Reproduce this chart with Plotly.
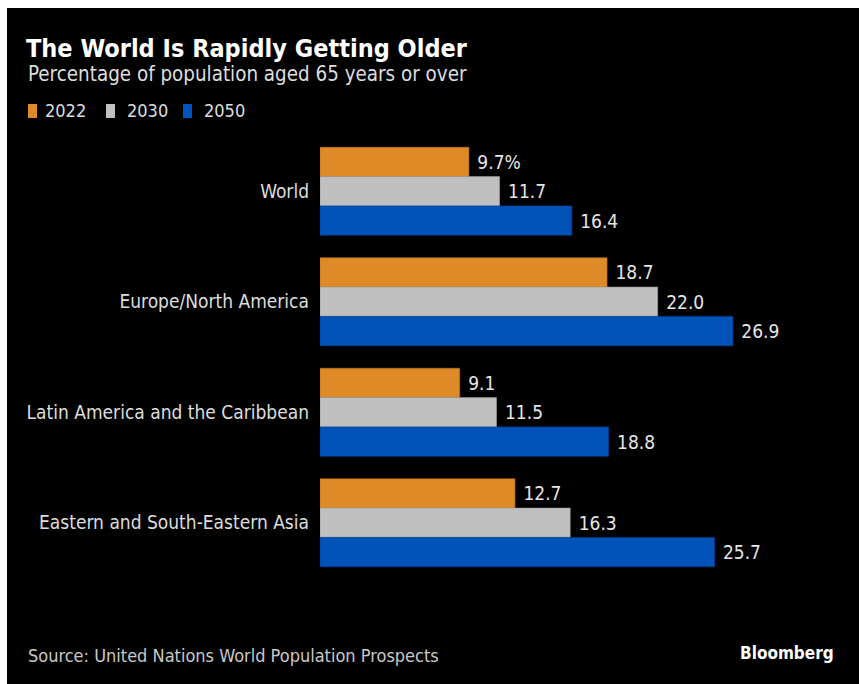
import plotly.graph_objects as go

# Regions and share of population aged 65+ (%)
regions = ["World", "Europe/North America", "Latin America and the Caribbean",
           "Eastern and South-Eastern Asia"]
years = ["2022", "2030", "2050"]
share_2022 = [9.7, 18.7, 9.1, 12.7]
share_2030 = [11.7, 22.0, 11.5, 16.3]
share_2050 = [16.4, 26.9, 18.8, 25.7]

series = [share_2022, share_2030, share_2050]
colors = ["#DE8A27", "#C0C0C0", "#0152B9"]
edge = ["#B9721F", "#9A9A9A", "#01439A"]

W, H = 859, 684
ML, MR, MT, MB = 320, 17, 136, 106
PW, PH = W - ML - MR, H - MT - MB
FONT = "DejaVu Sans Condensed, Liberation Sans Narrow, DejaVu Sans"
TXT = "#DDDDDD"


def px_x(px):
    return (px - ML) / PW


def px_y(py):
    return (H - MB - py) / PH


fig = go.Figure()
for i, (yr, vals) in enumerate(zip(years, series)):
    labels = []
    for j, v in enumerate(vals):
        s = f"{v:.1f}"
        if i == 0 and j == 0:
            s += "%"
        labels.append("\u00a0" + s)
    fig.add_trace(go.Bar(
        name=yr, y=regions, x=vals, orientation="h",
        marker=dict(color=colors[i], line=dict(color=edge[i], width=0.6)),
        text=labels, textposition="outside", cliponaxis=False,
        textfont=dict(family=FONT, size=19, color="#E6E6E6"),
        showlegend=False,
    ))

fig.update_layout(
    width=W, height=H,
    margin=dict(l=ML, r=MR, t=MT, b=MB, pad=0),
    paper_bgcolor="white", plot_bgcolor="black",
    barmode="group", bargap=0.204, bargroupgap=0,
    font=dict(family=FONT, color=TXT),
    title=dict(
        text="<b>The World Is Rapidly Getting Older</b>",
        xref="container", yref="container",
        x=26 / W, xanchor="left", y=1 - 48 / H, yanchor="middle",
        font=dict(family=FONT, size=25, color="white"),
    ),
    xaxis=dict(range=[0, PW / 15.35], visible=False, fixedrange=True),
    yaxis=dict(
        autorange="reversed", showgrid=False, zeroline=False, showline=False,
        ticks="", ticklabelstandoff=10,
        tickfont=dict(family=FONT, size=19, color=TXT),
    ),
)

# black card behind everything
fig.add_shape(
    type="rect", xref="paper", yref="paper", layer="below",
    x0=px_x(7), x1=px_x(W + 2), y0=px_y(H + 2), y1=px_y(8),
    fillcolor="black", line=dict(width=0),
)

# legend: colour swatch + year
legend_x = [(28, 43), (106, 125), (183, 202)]
for (sx, tx), yr, c in zip(legend_x, years, colors):
    fig.add_shape(
        type="rect", xref="paper", yref="paper",
        x0=px_x(sx), x1=px_x(sx + 9), y0=px_y(118), y1=px_y(104),
        fillcolor=c, line=dict(width=0),
    )
    fig.add_annotation(
        text=yr, xref="paper", yref="paper", x=px_x(tx), y=px_y(111),
        xanchor="left", yanchor="middle", showarrow=False,
        font=dict(family=FONT, size=18, color=TXT),
    )

fig.add_annotation(
    text="Percentage of population aged 65 years or over",
    xref="paper", yref="paper", x=px_x(26), y=px_y(74),
    xanchor="left", yanchor="middle", showarrow=False,
    font=dict(family=FONT, size=20.4, color=TXT),
)
fig.add_annotation(
    text="Source: United Nations World Population Prospects",
    xref="paper", yref="paper", x=px_x(26), y=px_y(655),
    xanchor="left", yanchor="middle", showarrow=False,
    font=dict(family=FONT, size=18, color="#C8C8C8"),
)
fig.add_annotation(
    text="<b>Bloomberg</b>",
    xref="paper", yref="paper", x=px_x(836), y=px_y(653),
    xanchor="right", yanchor="middle", showarrow=False,
    font=dict(family=FONT, size=17, color="white"),
)

fig.write_html("out.html")
